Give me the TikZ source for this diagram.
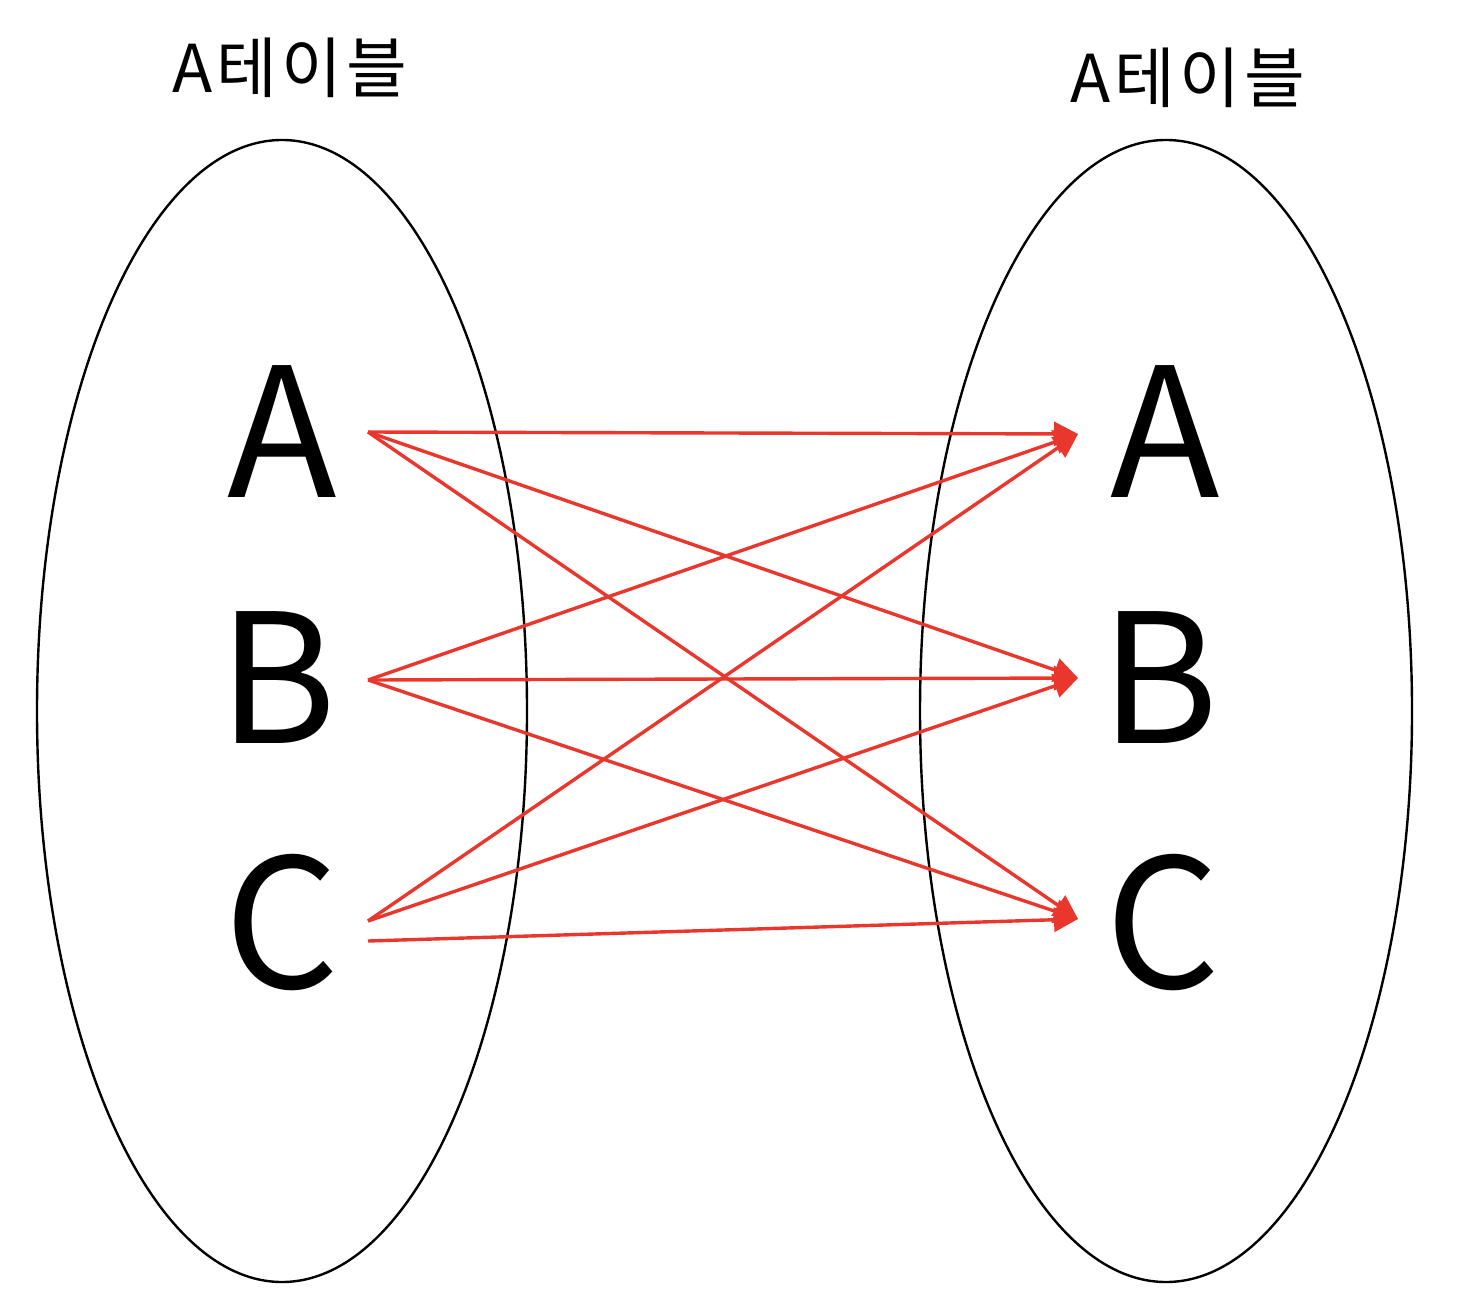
\documentclass[tikz,border=0pt]{standalone}
\usepackage{fontspec}
\setmainfont{Noto Sans CJK KR}
\newfontfamily\titlefont[LetterSpace=6]{Noto Sans CJK KR}
\usetikzlibrary{arrows.meta}
\definecolor{arrowred}{RGB}{234,55,45}
\begin{document}
\begin{tikzpicture}[x=0.5pt,y=-0.5pt,
  settitle/.style={anchor=base,font=\titlefont\fontsize{33}{40}\selectfont,inner sep=0pt},
  letter/.style={anchor=base,font=\fontsize{90}{100}\selectfont,inner sep=0pt},
  setline/.style={draw=black,line width=1.2pt},
  link/.style={draw=arrowred,line width=1.7pt,-{Triangle[length=12pt,width=12pt]}}]
\useasboundingbox (0,0) rectangle (1470,1300);
% sets
\draw[setline] (282,711) ellipse [x radius=245,y radius=571];
\draw[setline] (1166,711) ellipse [x radius=246,y radius=571];
% titles
\node[settitle] (tl) at (290,93) {A테이블};
\node[settitle] (tr) at (1188,103) {A테이블};
% letters
\node[letter] (lA) at (282,497) {A};
\node[letter] (lB) at (278,743) {B};
\node[letter] (lC) at (282,988) {C};
\node[letter] (rA) at (1165,497) {A};
\node[letter] (rB) at (1160,743) {B};
\node[letter] (rC) at (1163,988) {C};
% connector end points
\coordinate (sA) at (368,432);
\coordinate (sB) at (368,680);
\coordinate (sC) at (368,921);
\coordinate (sC2) at (368,941);
\coordinate (eA) at (1078,434);
\coordinate (eB) at (1078,678);
\coordinate (eC) at (1078,919);
% connectors
\draw[link] (sA) -- (eA);
\draw[link] (sA) -- (eB);
\draw[link] (sA) -- (eC);
\draw[link] (sB) -- (eA);
\draw[link] (sB) -- (eB);
\draw[link] (sB) -- (eC);
\draw[link] (sC) -- (eA);
\draw[link] (sC) -- (eB);
\draw[link] (sC2) -- (eC);
\end{tikzpicture}
\end{document}
